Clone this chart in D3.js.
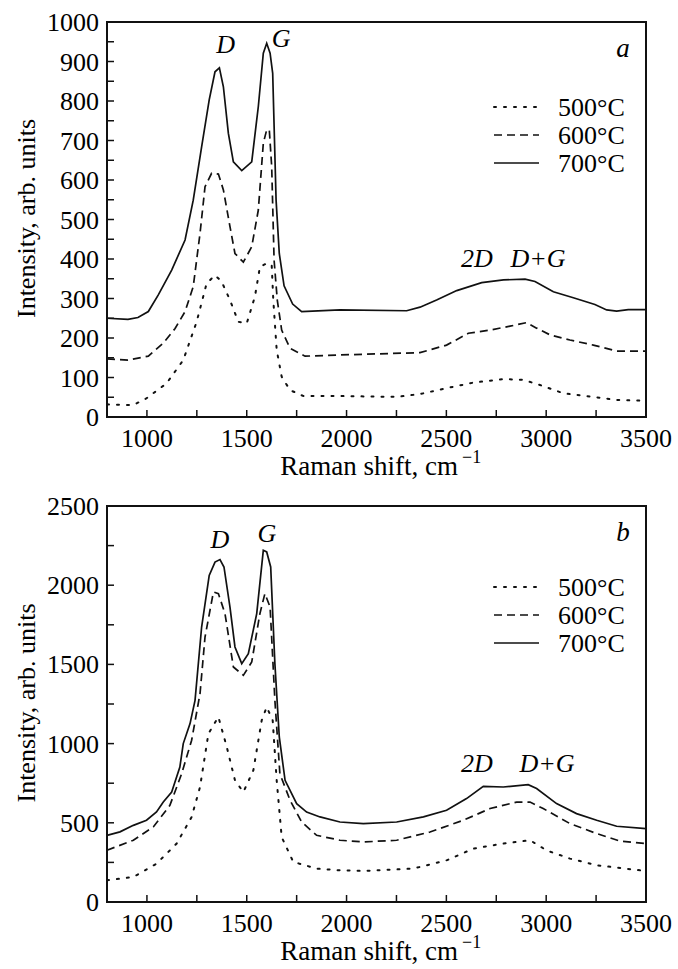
<!DOCTYPE html>
<html>
<head>
<meta charset="utf-8">
<script src="https://cdn.jsdelivr.net/npm/d3@7"></script>
</head>
<body style="margin:0">
<svg id="chart" width="678" height="969"></svg>
<script>
// Raman shift (cm-1) / intensity pairs

// panel a
const a500 = [[800,32],[930,30],[997,47],[1098,85],[1182,144],[1249,241],[1299,338],[1341,359],[1374,343],[1416,296],[1458,241],[1500,237],[1541,305],[1566,380],[1600,389],[1625,385],[1633,296],[1650,170],[1675,102],[1717,68],[1784,53],[1967,53],[2251,51],[2368,58],[2501,73],[2635,87],[2786,96],[2886,94],[2969,81],[3086,60],[3236,51],[3353,43],[3500,41]];
const a600 = [[800,147],[905,144],[1007,154],[1082,187],[1141,224],[1191,267],[1232,330],[1266,465],[1291,583],[1324,617],[1358,615],[1383,575],[1416,482],[1441,414],[1483,392],[1525,431],[1558,524],[1583,693],[1600,727],[1613,727],[1625,634],[1637,397],[1653,296],[1675,220],[1717,174],[1792,154],[1967,157],[2368,163],[2501,182],[2610,212],[2719,220],[2819,230],[2902,239],[2952,225],[3019,208],[3119,195],[3236,182],[3353,167],[3500,167]];
const a700 = [[800,250],[905,247],[955,252],[1007,267],[1057,309],[1124,372],[1191,448],[1232,549],[1274,684],[1312,803],[1341,874],[1363,884],[1383,836],[1408,718],[1433,646],[1475,624],[1525,646],[1558,786],[1583,921],[1600,946],[1617,921],[1630,870],[1647,549],[1663,414],[1687,332],[1730,286],[1775,267],[1967,271],[2301,269],[2368,278],[2451,296],[2552,320],[2677,340],[2786,347],[2894,349],[2944,343],[3036,317],[3136,302],[3244,285],[3303,271],[3353,268],[3411,272],[3500,272]];

// panel b
const b500 = [[800,137],[932,158],[1048,242],[1149,369],[1224,537],[1266,726],[1308,1063],[1358,1168],[1400,979],[1441,768],[1483,694],[1533,831],[1575,1147],[1600,1231],[1630,1147],[1650,768],[1675,410],[1733,253],[1850,211],[1967,200],[2084,196],[2335,211],[2501,263],[2635,337],[2786,369],[2919,390],[3002,326],[3119,274],[3253,232],[3470,200],[3500,198]];
const b600 = [[800,327],[932,390],[1032,474],[1115,610],[1174,810],[1224,1021],[1266,1316],[1291,1673],[1333,1957],[1358,1947],[1391,1821],[1433,1484],[1483,1431],[1525,1515],[1566,1821],[1591,1947],[1617,1862],[1641,1273],[1666,810],[1717,642],[1775,505],[1850,421],[1967,390],[2084,379],[2251,390],[2418,442],[2585,516],[2719,590],[2852,631],[2919,631],[2985,590],[3119,495],[3253,432],[3369,385],[3500,369]];
const b700 = [[800,421],[865,443],[932,484],[998,516],[1048,568],[1082,631],[1124,694],[1165,852],[1182,1000],[1216,1126],[1241,1273],[1274,1736],[1312,2062],[1341,2146],[1366,2162],[1386,2115],[1416,1862],[1441,1610],[1475,1505],[1508,1568],[1550,1821],[1583,2220],[1600,2210],[1620,2115],[1641,1505],[1663,1042],[1692,768],[1750,621],[1800,568],[1867,537],[1967,505],[2084,495],[2251,505],[2385,537],[2501,579],[2601,653],[2685,730],[2785,726],[2910,741],[2952,716],[3052,621],[3152,558],[3253,516],[3353,478],[3500,463]];

const temps = ["500°C", "600°C", "700°C"];
const dashes = ["2,8", "8,5", null];
const xTicks = [1000, 1500, 2000, 2500, 3000, 3500];
const yTicksA = [0, 100, 200, 300, 400, 500, 600, 700, 800, 900, 1000];
const yTicksB = [0, 500, 1000, 1500, 2000, 2500];

const FONT = "Liberation Serif";

const svg = d3.select("#chart");
const left = 107, right = 646;

const x = d3.scaleLinear().domain([800, 3500]).range([left, right]);

// text helper: texts go straight on the svg, font on each one
const addText = (size) => svg.append("text")
    .attr("font-family", FONT)
    .style("font-family", FONT)
    .attr("font-size", size);

// draw one panel
const drawPanel = (cfg) => {
    const y = d3.scaleLinear().domain([0, cfg.ymax]).range([cfg.bottom, cfg.top]);
    const g = svg.append("g");

    // inward ticks
    const xMinor = d3.range(1000, 3500, 250);
    g.selectAll(".xt").data(xMinor).enter().append("line")
        .attr("x1", d => x(d)).attr("x2", d => x(d))
        .attr("y1", cfg.bottom).attr("y2", cfg.bottom - 7)
        .attr("stroke", "#111").attr("stroke-width", 1.5);
    g.selectAll(".yt").data(d3.range(cfg.ystep, cfg.ymax, cfg.ystep)).enter().append("line")
        .attr("x1", left).attr("x2", left + 7)
        .attr("y1", d => y(d)).attr("y2", d => y(d))
        .attr("stroke", "#111").attr("stroke-width", 1.5);

    xTicks.forEach(d => {
        addText(26).attr("x", x(d)).attr("y", cfg.bottom + 30)
            .attr("text-anchor", "middle").text(d);
    });
    cfg.yTicks.forEach(d => {
        addText(26).attr("x", left - 8).attr("y", y(d) + 9)
            .attr("text-anchor", "end").text(d);
    });

    // curves
    const line = d3.line().x(d => x(d[0])).y(d => y(d[1]));
    cfg.series.forEach((s, i) => {
        g.append("path").datum(s)
            .attr("d", line)
            .attr("fill", "none").attr("stroke", "#111")
            .attr("stroke-width", i == 0 ? 2 : 1.7)
            .attr("stroke-linecap", i == 0 ? "round" : "butt")
            .attr("stroke-dasharray", dashes[i]);
    });

    // frame
    g.append("rect")
        .attr("x", left).attr("y", cfg.top)
        .attr("width", right - left).attr("height", cfg.bottom - cfg.top)
        .attr("fill", "none").attr("stroke", "#111").attr("stroke-width", 2);

    // legend
    temps.forEach((t, i) => {
        const ly = cfg.top + cfg.legendTop + i * 28;
        g.append("line")
            .attr("x1", 494).attr("x2", 539).attr("y1", ly).attr("y2", ly)
            .attr("stroke", "#111").attr("stroke-width", i == 0 ? 2 : 1.7)
            .attr("stroke-linecap", i == 0 ? "round" : "butt")
            .attr("stroke-dasharray", dashes[i]);
        addText(26).attr("x", 558).attr("y", ly + 9).text(t);
    });

    // panel letter
    addText(27).attr("x", 623).attr("y", cfg.top + 35)
        .attr("text-anchor", "middle")
        .attr("font-style", "italic").text(cfg.letter);

    // peak labels
    cfg.peaks.forEach(p => {
        addText(26).attr("x", x(p.at)).attr("y", y(p.v))
            .attr("text-anchor", "middle")
            .attr("font-style", "italic")
            .text(p.name);
    });

    // axis titles
    addText(26)
        .attr("transform", `translate(35,${(cfg.top + cfg.bottom) / 2 - 1}) rotate(-90)`)
        .attr("text-anchor", "middle")
        .text("Intensity, arb. units");
    addText(27).attr("x", 458).attr("y", cfg.bottom + 58)
        .attr("text-anchor", "end").text("Raman shift, cm");
    addText(18).attr("x", 462).attr("y", cfg.bottom + 46)
        .text("−1");
};

drawPanel({
    top: 22, bottom: 417, ymax: 1000, ystep: 50, yTicks: yTicksA,
    series: [a500, a600, a700], letter: "a", legendTop: 85,
    peaks: [{name: "D", at: 1394, v: 921}, {name: "G", at: 1672, v: 937},
            {name: "2D", at: 2653, v: 380}, {name: "D+G", at: 2959, v: 380}]
});

drawPanel({
    top: 506, bottom: 902, ymax: 2500, ystep: 250, yTicks: yTicksB,
    series: [b500, b600, b700], letter: "b", legendTop: 81,
    peaks: [{name: "D", at: 1366, v: 2233}, {name: "G", at: 1601, v: 2271},
            {name: "2D", at: 2653, v: 819}, {name: "D+G", at: 3004, v: 819}]
});
</script>
</body>
</html>
